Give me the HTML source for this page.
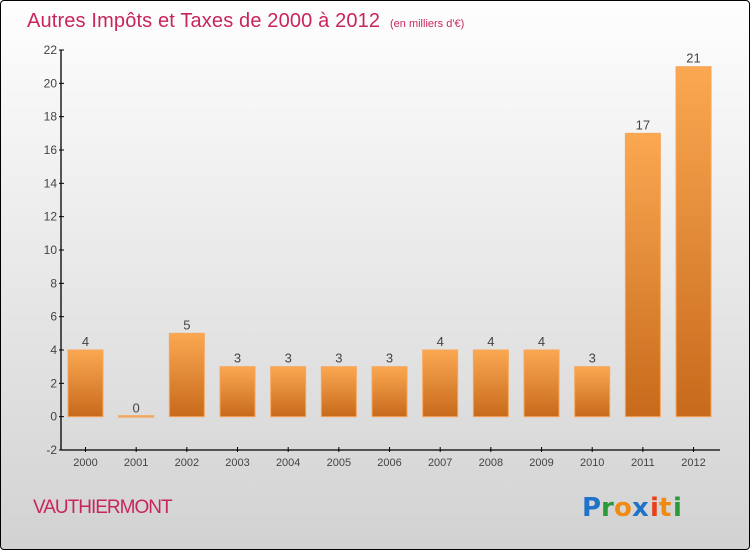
<!DOCTYPE html>
<html><head><meta charset="utf-8"><style>
html,body{margin:0;padding:0}
body{width:750px;height:550px;overflow:hidden;font-family:"Liberation Sans",sans-serif}
#wrap{position:absolute;left:0;top:0;width:748px;height:548px;border:1px solid #000;border-radius:4px;background:linear-gradient(#fefefe,#d2d2d2)}
</style></head><body>
<div id="wrap"></div>
<svg id="chart" width="750" height="550" style="position:absolute;left:0;top:0">
<defs><linearGradient id="bg" x1="0" y1="0" x2="0" y2="1"><stop offset="0" stop-color="#fba852"/><stop offset="1" stop-color="#c76a1b"/></linearGradient></defs>
<text x="27" y="27" font-size="20" fill="#c8265a" textLength="353">Autres Impôts et Taxes de 2000 à 2012</text>
<text x="390" y="27" font-size="11" fill="#c8265a">(en milliers d'€)</text>
<text x="33" y="513" font-size="19" fill="#c8265a" letter-spacing="-1">VAUTHIERMONT</text>
<g font-size="26" font-weight="bold" font-family="'DejaVu Sans',sans-serif">
<text x="582" y="516" fill="#1f74c9">P</text><text x="601" y="516" fill="#2a9a3a">r</text><text x="614" y="516" fill="#f08a12">o</text><text x="632" y="516" fill="#1f74c9">x</text><text x="650" y="516" fill="#e8401c">i</text><text x="659" y="516" fill="#f08a12">t</text><text x="673" y="516" fill="#2a9a3a">i</text></g>
<g id="axes"></g><g id="bars"></g>
</svg>
<script>
const years=["2000","2001","2002","2003","2004","2005","2006","2007","2008","2009","2010","2011","2012"];
const values=[4,0,5,3,3,3,3,4,4,4,3,17,21];
const yTicks=[-2,0,2,4,6,8,10,12,14,16,18,20,22];
const NS="http://www.w3.org/2000/svg";
const yMin=-2,yMax=22,plotTop=50,plotBot=450,x0=61,step=50.67,first=85.5,bw=35;
function yS(v){return plotBot-(v-yMin)/(yMax-yMin)*(plotBot-plotTop);}
function xS(i){return first+i*step;}
function mk(t,a,p){const e=document.createElementNS(NS,t);for(const k in a)e.setAttribute(k,a[k]);p.appendChild(e);return e;}
const ax=document.getElementById('axes'),bs=document.getElementById('bars');
const yl=mk('line',{x1:x0,y1:plotTop,x2:x0,y2:plotBot,stroke:'#000','stroke-width':1.3},ax);


const xl=mk('line',{x1:x0,y1:plotBot,x2:720,y2:plotBot,stroke:'#000','stroke-width':1.3},ax);


yTicks.forEach(t=>{
 mk('line',{x1:x0-2,y1:yS(t),x2:x0+3,y2:yS(t),stroke:'#000'},ax);
 const tx=mk('text',{x:x0-4,y:yS(t)+4,'text-anchor':'end','font-size':12,fill:'#444'},ax);tx.textContent=t;
 
 
});
years.forEach((yr,i)=>{
 mk('line',{x1:xS(i),y1:plotBot-3,x2:xS(i),y2:plotBot+2,stroke:'#000'},ax);
 const tx=mk('text',{x:xS(i),y:plotBot+16,'text-anchor':'middle','font-size':11,fill:'#444'},ax);tx.textContent=yr;
 
 
 const v=values[i],yt=yS(Math.max(v,0)),yb=yS(0),h=Math.max(yb-yt,1.5);
 const r=mk('rect',{x:xS(i)-bw/2,y:v===0?yb-1:yt,width:bw,height:h,fill:v===0?'#e9a872':'url(#bg)',stroke:'#f7a65a','stroke-width':1},bs);
 
 
 const l=mk('text',{x:xS(i),y:(v===0?yb:yt)-4,'text-anchor':'middle','font-size':13,fill:'#444'},bs);l.textContent=v;
 
 
});
</script>
</body></html>
